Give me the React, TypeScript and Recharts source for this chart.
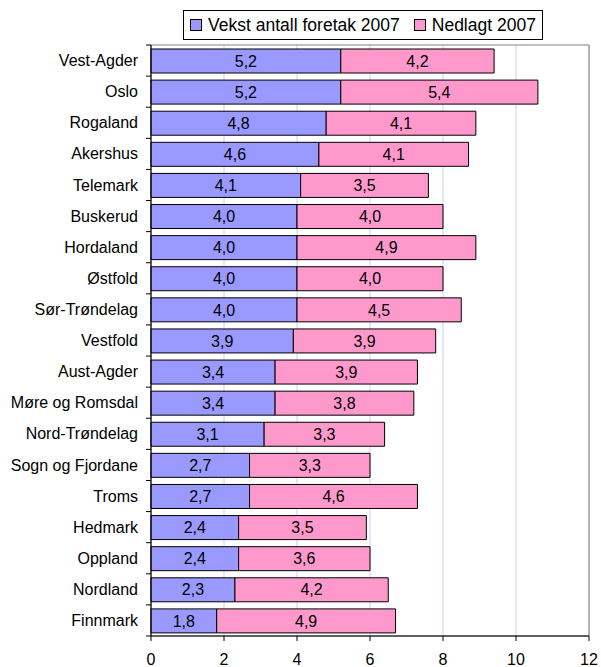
import { BarChart, Bar, XAxis, YAxis, CartesianGrid, ReferenceArea, LabelList } from "recharts";

const counties = [
  "Vest-Agder", "Oslo", "Rogaland", "Akershus", "Telemark", "Buskerud", "Hordaland",
  "Østfold", "Sør-Trøndelag", "Vestfold", "Aust-Agder", "Møre og Romsdal", "Nord-Trøndelag",
  "Sogn og Fjordane", "Troms", "Hedmark", "Oppland", "Nordland", "Finnmark",
];
const growth = [5.2, 5.2, 4.8, 4.6, 4.1, 4.0, 4.0, 4.0, 4.0, 3.9, 3.4, 3.4, 3.1, 2.7, 2.7, 2.4, 2.4, 2.3, 1.8];
const closed = [4.2, 5.4, 4.1, 4.1, 3.5, 4.0, 4.9, 4.0, 4.5, 3.9, 3.9, 3.8, 3.3, 3.3, 4.6, 3.5, 3.6, 4.2, 4.9];
const xTicks = [0, 2, 4, 6, 8, 10, 12];
const seriesNames = ["Vekst antall foretak 2007", "Nedlagt 2007"];
const COLORS = ["#9999ff", "#ff99cc"];

const W = 601;
const H = 667;
const TOP = 45;
const AXIS_H = 31;
const Y_W = 151;
const BAND = (H - TOP - AXIS_H) / counties.length;
const FONT = "'Liberation Sans', Arial, sans-serif";

const data = counties.map((name, i) => ({ name, growth: growth[i], closed: closed[i] }));

const fmt = (v: any) => Number(v).toFixed(1).replace(".", ",");

// county labels + Excel-style tick marks between categories
function CountyTick(props: any) {
  const { x, y, payload, index } = props;
  const axisX = x + 13;
  return (
    <g>
      <line x1={axisX - 5} x2={axisX} y1={y - BAND / 2} y2={y - BAND / 2} stroke="#000" />
      {index === counties.length - 1 && (
        <line x1={axisX - 5} x2={axisX} y1={y + BAND / 2} y2={y + BAND / 2} stroke="#000" />
      )}
      <text x={x} y={y} dy="0.35em" textAnchor="end" fill="#000" fontSize={16} fontFamily={FONT}>
        {payload.value}
      </text>
    </g>
  );
}

export default function App() {
  return (
    <div style={{ position: "absolute", left: 0, top: 0, width: W, height: H, background: "#fff", fontFamily: FONT }}>
      <BarChart
        width={W}
        height={H}
        data={data}
        layout="vertical"
        margin={{ top: TOP, right: 12, left: 0, bottom: 0 }}
        barCategoryGap={7}
      >
        <CartesianGrid horizontal={false} stroke="#ccccff" />
        <ReferenceArea x1={0} x2={12} fill="none" stroke="#808080" ifOverflow="visible" />
        <XAxis
          type="number"
          domain={[0, 12]}
          ticks={xTicks}
          height={AXIS_H}
          tickSize={5}
          tickMargin={13}
          stroke="#000"
          tick={{ fill: "#000", fontSize: 16, fontFamily: FONT }}
          interval={0}
        />
        <YAxis
          type="category"
          dataKey="name"
          width={Y_W}
          tickSize={5}
          tickMargin={8}
          tickLine={false}
          stroke="#000"
          tick={<CountyTick />}
          interval={0}
        />
        <Bar dataKey="growth" stackId="a" fill={COLORS[0]} stroke="#000" strokeWidth={1} barSize={24} isAnimationActive={false}>
          <LabelList dataKey="growth" position="center" formatter={fmt} fill="#000" fontSize={16} fontFamily={FONT} />
        </Bar>
        <Bar dataKey="closed" stackId="a" fill={COLORS[1]} stroke="#000" strokeWidth={1} barSize={24} isAnimationActive={false}>
          <LabelList dataKey="closed" position="center" formatter={fmt} fill="#000" fontSize={16} fontFamily={FONT} />
        </Bar>
      </BarChart>
      <div
        style={{
          position: "absolute",
          left: 183,
          top: 10,
          width: 360,
          height: 30,
          boxSizing: "border-box",
          border: "1px solid #000",
          background: "#fff",
          display: "flex",
          alignItems: "center",
          justifyContent: "center",
          gap: 14,
          fontSize: 17.5,
          color: "#000",
        }}
      >
        {seriesNames.map((s, i) => (
          <div key={s} style={{ display: "flex", alignItems: "center" }}>
            <span style={{ display: "inline-block", width: 10, height: 10, border: "1px solid #000", background: COLORS[i], marginRight: 6 }} />
            <span>{s}</span>
          </div>
        ))}
      </div>
    </div>
  );
}
